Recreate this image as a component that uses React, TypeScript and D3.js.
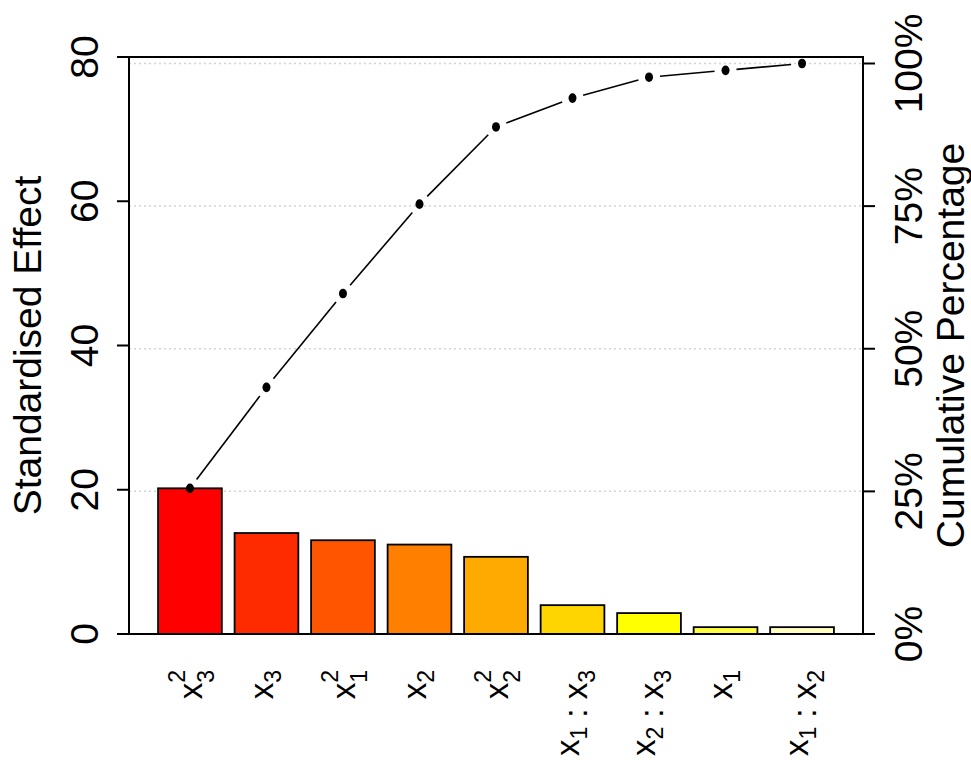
import * as React from "react"
import * as d3 from "d3"

// effects sorted by size (pareto order)
const factors = ["x3^2", "x3", "x1^2", "x2", "x2^2", "x1:x3", "x2:x3", "x1", "x1:x2"]
const effects = [20.2, 14.0, 13.0, 12.4, 10.7, 4.0, 2.9, 0.95, 0.95]
const barColors = ["#FF0000", "#FF2B00", "#FF5500", "#FF8000", "#FFAA00", "#FFD500", "#FFFF00", "#FFFF40", "#FFFFBF"]
const leftTicks = [0, 20, 40, 60, 80]
const pctTicks = [0, 25, 50, 75, 100]

const W = 971
const H = 760
const margin = { top: 57, right: 108, bottom: 126, left: 129 }
const FONT = "'Liberation Sans', Arial, Helvetica, sans-serif"
const FS = 39 // axis text
const LFS = 33 // factor labels
const SFS = 23 // scripts
const SUP = 17
const SUB_STACK = 12
const SUB = 8

// render one term like "x3^2" as tspans
function termSpans(term: string, key: string) {
  const m = term.match(/^([a-z])(\d)(\^(\d))?$/)
  if (!m) return [<tspan key={key}>{term}</tspan>]
  const [, base, sub, , sup] = m
  const out: React.ReactNode[] = []
  out.push(<tspan key={key + "b"}>{base}</tspan>)
  if (sup) {
    out.push(<tspan key={key + "p"} fontSize={SFS} dy={-SUP}>{sup}</tspan>)
    out.push(<tspan key={key + "s"} fontSize={SFS} dx={-SFS * 0.556} dy={SUP + SUB_STACK}>{sub}</tspan>)
    out.push(<tspan key={key + "r"} fontSize={LFS} dy={-SUB_STACK}>{""}</tspan>)
  } else {
    out.push(<tspan key={key + "s"} fontSize={SFS} dy={SUB}>{sub}</tspan>)
    out.push(<tspan key={key + "r"} fontSize={LFS} dy={-SUB}>{""}</tspan>)
  }
  return out
}

function FactorLabel({ name, cx, y }: { name: string; cx: number; y: number }) {
  const terms = name.split(":")
  const stacked = terms.some((t) => t.includes("^"))
  // centre the label's extent across the tick, like R does
  const top = stacked ? SUP + SFS * 0.716 : Math.max(LFS * 0.519, SFS * 0.716 - SUB)
  const bottom = stacked ? SUB_STACK : SUB
  const base = cx + (top - bottom) / 2 + 1.5
  const spans: React.ReactNode[] = []
  terms.forEach((t, i) => {
    if (i > 0) spans.push(<tspan key={"sep" + i}>{" : "}</tspan>)
    spans.push(...termSpans(t, "t" + i))
  })
  return (
    <text transform={`translate(${base},${y}) rotate(-90)`} textAnchor="end" fontSize={LFS}>
      {spans}
    </text>
  )
}

export default function App() {
  const x0 = margin.left
  const x1 = W - margin.right
  const y0 = H - margin.bottom
  const y1 = margin.top

  const x = d3.scaleBand<string>().domain(factors).range([x0, x1]).paddingInner(0.2 / 1.2).paddingOuter(0.38)
  const y = d3.scaleLinear().domain([0, 80]).range([y0, y1])

  const total = d3.sum(effects)
  const cum = d3.cumsum(effects)
  const yPct = d3.scaleLinear().domain([0, 100]).range([y(0), y(total)])

  const pts = factors.map((f, i) => [x(f)! + x.bandwidth() / 2, y(cum[i])] as [number, number])

  // type="b" style: segments leave a gap around each point
  const gap = 11
  const segs = d3.pairs(pts).map(([a, b]) => {
    const dx = b[0] - a[0]
    const dy = b[1] - a[1]
    const len = Math.hypot(dx, dy)
    const ux = dx / len
    const uy = dy / len
    return [a[0] + ux * gap, a[1] + uy * gap, b[0] - ux * gap, b[1] - uy * gap]
  })

  return (
    <svg
      width={W}
      height={H}
      style={{ position: "absolute", left: 0, top: 0, background: "#fff" }}
      fontFamily={FONT}
    >
      {/* grid at cumulative percentage ticks */}
      {pctTicks.slice(1).map((t) => (
        <line
          key={"g" + t}
          x1={x0}
          x2={x1}
          y1={yPct(t)}
          y2={yPct(t)}
          stroke="#d3d3d3"
          strokeWidth={1.5}
          strokeDasharray="2 3"
        />
      ))}

      {/* bars */}
      {factors.map((f, i) => (
        <rect
          key={f}
          x={x(f)}
          y={y(effects[i])}
          width={x.bandwidth()}
          height={y(0) - y(effects[i])}
          fill={barColors[i]}
          stroke="#000"
          strokeWidth={1.8}
        />
      ))}

      {/* cumulative line */}
      {segs.map((s, i) => (
        <line key={"s" + i} x1={s[0]} y1={s[1]} x2={s[2]} y2={s[3]} stroke="#000" strokeWidth={1.6} />
      ))}
      {pts.map((p, i) => (
        <ellipse key={"p" + i} cx={p[0]} cy={p[1]} rx={4} ry={4.8} fill="#000" />
      ))}

      {/* box */}
      <rect x={x0} y={y1} width={x1 - x0} height={y0 - y1} fill="none" stroke="#000" strokeWidth={2} />

      {/* left axis */}
      {leftTicks.map((t) => (
        <g key={"l" + t}>
          <line x1={x0 - 12} x2={x0} y1={y(t)} y2={y(t)} stroke="#000" strokeWidth={2} />
          <text transform={`translate(98,${y(t)}) rotate(-90)`} textAnchor="middle" fontSize={FS}>
            {t}
          </text>
        </g>
      ))}
      <text transform={`translate(41,${(y0 + y1) / 2}) rotate(-90)`} textAnchor="middle" fontSize={FS}>
        Standardised Effect
      </text>

      {/* right axis */}
      {pctTicks.map((t) => (
        <g key={"r" + t}>
          <line x1={x1} x2={x1 + 12} y1={yPct(t)} y2={yPct(t)} stroke="#000" strokeWidth={2} />
          <text transform={`translate(922,${yPct(t)}) rotate(-90)`} textAnchor="middle" fontSize={FS}>
            {t + "%"}
          </text>
        </g>
      ))}
      <text transform={`translate(964,${(y0 + y1) / 2}) rotate(-90)`} textAnchor="middle" fontSize={FS}>
        Cumulative Percentage
      </text>

      {/* factor labels */}
      {factors.map((f) => (
        <FactorLabel key={"f" + f} name={f} cx={x(f)! + x.bandwidth() / 2} y={670} />
      ))}
    </svg>
  )
}
